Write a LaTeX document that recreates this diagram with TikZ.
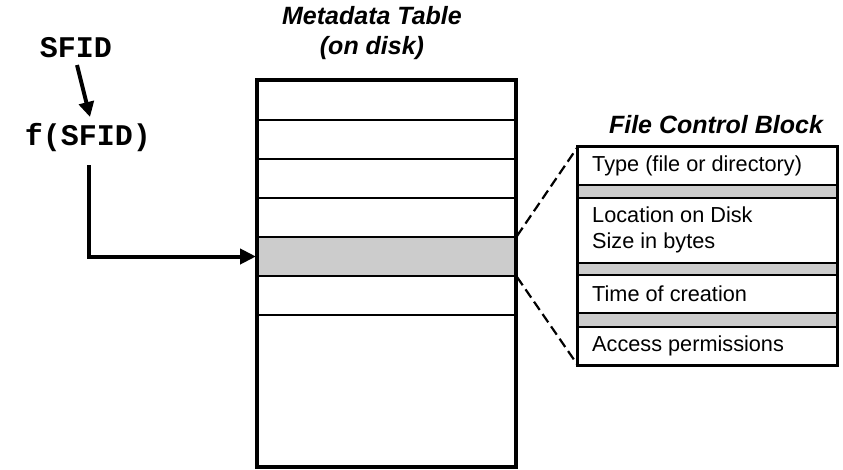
\documentclass[tikz,border=0pt]{standalone}
\usepackage{fontspec}
\setmainfont{Liberation Sans}
\newfontfamily\monob{Liberation Mono}
\usetikzlibrary{arrows.meta}
\definecolor{rowgray}{HTML}{CCCCCC}
\tikzset{
  title/.style={font=\fontsize{25}{30}\selectfont\bfseries\itshape, align=center, inner sep=0pt},
  code/.style={font=\fontsize{30}{32}\selectfont\monob\bfseries, inner sep=0pt},
  fcbtext/.style={font=\fontsize{21.7}{26}\selectfont, align=left, anchor=west, inner sep=0pt},
  rowline/.style={line width=2pt},
  frame/.style={line width=4.5pt},
  fcbframe/.style={line width=3pt},
  arr/.style={line width=4pt, -{Triangle[length=15pt,width=15pt]}},
  zoomline/.style={line width=2.2pt, dash pattern=on 10pt off 5pt},
}
\begin{document}
\begin{tikzpicture}[x=1pt,y=-1pt]
\useasboundingbox (0,0) rectangle (843,469);
% titles
\node[title] (mtitle) at (372,33) {Metadata Table\\(on disk)};
\node[title] (ftitle) at (716,125) {File Control Block};
% code labels
\node[code] (sfid) at (76,48) {SFID};
\node[code] (fsfid) at (88,138) {f(SFID)};
\coordinate (a1) at (77,65);
\coordinate (a2) at (90,117);
\coordinate (a3) at (89,165);
% metadata table
\node[draw, rowline, fill=rowgray, minimum width=259pt, minimum height=39pt, inner sep=0pt] (sel) at (386.5,256.5) {};
\foreach \yy in {120,159,198,315} \draw[rowline] (257,\yy) -- (516,\yy);
\draw[frame] (257,80) rectangle (516,467);
% FCB
\node[minimum width=259pt, minimum height=218pt, inner sep=0pt] (fcb) at (707.5,256) {};
\fill[rowgray] (578,185) rectangle (837,198);
\fill[rowgray] (578,263) rectangle (837,275);
\fill[rowgray] (578,313) rectangle (837,327);
\foreach \yy in {185,198,263,275,313,327} \draw[rowline] (578,\yy) -- (837,\yy);
\draw[fcbframe] (fcb.north west) rectangle (fcb.south east);
\node[fcbtext] (t1) at (592,166) {Type (file or directory)};
\node[fcbtext] (t2) at (592,230) {Location on Disk\\Size in bytes};
\node[fcbtext] (t3) at (592,294) {Time of creation};
\node[fcbtext] (t4) at (592,346) {Access permissions};
% zoom lines
\draw[zoomline] (sel.north east) -- (fcb.north west);
\draw[zoomline] (sel.south east) -- (fcb.south west);
% arrows
\draw[arr] (a1) -- (a2);
\draw[arr, -{Triangle[length=16pt,width=15pt]}] (a3) |- (sel.west);
\end{tikzpicture}
\end{document}
